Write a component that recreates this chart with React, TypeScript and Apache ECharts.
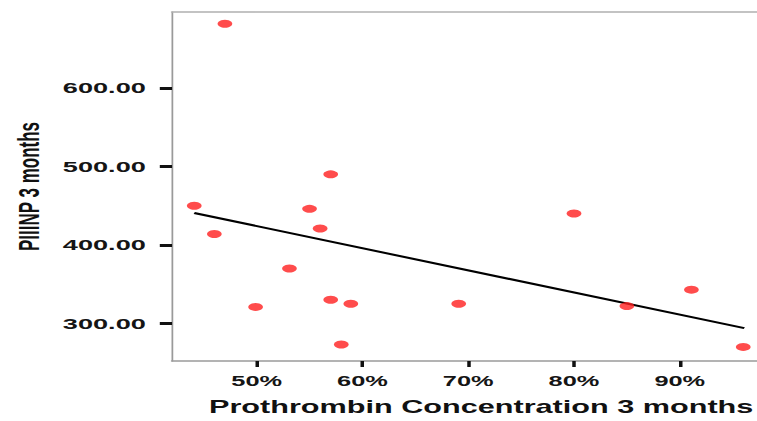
import React, { useEffect, useRef } from "react";
import * as echarts from "echarts";

// Prothrombin concentration (%) at 3 months
const prothrombin = [47, 44.1, 46, 49.9, 53.1, 55, 56, 57, 57, 58.9, 58, 69.1, 80, 85, 91.1, 96];
// PIIINP at 3 months
const piiinp = [682, 450, 414, 321, 370, 446, 421, 490, 330, 325, 273, 325, 440, 322, 343, 270];
// Fit line end points
const fitX = [44.1, 96.1];
const fitY = [440.7, 293.9];
// Tick values
const xTicks = [50, 60, 70, 80, 90];
const yTicks = [300, 400, 500, 600];

const STRETCH = 1.75;
const H = 421;
const W = 757 / STRETCH;

export default function App() {
  const ref = useRef<HTMLDivElement>(null);
  useEffect(() => {
    if (!ref.current) return;
    const chart = echarts.init(ref.current, null, { renderer: "svg", width: W, height: H });
    const points = prothrombin.map((x, i) => [x, piiinp[i]]);
    const fit = fitX.map((x, i) => [x, fitY[i]]);
    chart.setOption({
      animation: false,
      backgroundColor: "#ffffff",
      grid: { left: 166 / STRETCH, right: 0, top: 12, bottom: 59 },
      xAxis: [
        {
          type: "value",
          min: 42,
          max: 97.3,
          position: "bottom",
          splitLine: { show: false },
          axisLine: { show: true, lineStyle: { color: "#9a9a9a", width: 1.5 } },
          axisTick: { show: true, length: 6, customValues: xTicks, lineStyle: { color: "#111", width: 2 } },
          axisLabel: {
            customValues: xTicks,
            margin: 12,
            formatter: (v: number) => `${Math.round(v)}%`,
            fontFamily: "Liberation Sans",
            fontWeight: "bold",
            fontSize: 14.5,
            color: "#151515",
          },
          name: "Prothrombin Concentration 3 months",
          nameLocation: "middle",
          nameGap: 37,
          nameTextStyle: {
            fontFamily: "Liberation Sans",
            fontWeight: "bold",
            fontSize: 17.5,
            color: "#111",
            padding: [0, 0, 0, 19],
          },
        },
        {
          type: "value",
          min: 42,
          max: 97.3,
          position: "top",
          splitLine: { show: false },
          axisLine: { show: true, lineStyle: { color: "#b0b0b0", width: 1.5 } },
          axisTick: { show: false },
          axisLabel: { show: false },
        },
      ],
      yAxis: {
        type: "value",
        min: 252,
        max: 697,
        splitLine: { show: false },
        axisLine: { show: true, lineStyle: { color: "#9a9a9a", width: 1 } },
        axisTick: { show: true, length: 7, customValues: yTicks, lineStyle: { color: "#111", width: 3 } },
        axisLabel: {
          customValues: yTicks,
          margin: 15,
          formatter: (v: number) => v.toFixed(2),
          fontFamily: "Liberation Sans",
          fontWeight: "bold",
          fontSize: 15.5,
          color: "#151515",
        },
        name: "PIIINP 3 months",
        nameLocation: "middle",
        nameRotate: 90,
        nameGap: 72,
        nameTextStyle: {
          fontFamily: "Liberation Sans",
          fontWeight: "bold",
          fontSize: 17,
          color: "#111",
        },
      },
      series: [
        {
          type: "line",
          data: fit,
          xAxisIndex: 0,
          showSymbol: false,
          symbol: "none",
          lineStyle: { color: "#000", width: 2 },
          silent: true,
          z: 2,
        },
        {
          type: "scatter",
          data: points,
          xAxisIndex: 0,
          symbol: "circle",
          symbolSize: [8.4, 8],
          itemStyle: { color: "#ff1f1f" },
          z: 3,
        },
      ],
    });
    return () => chart.dispose();
  }, []);
  return (
    <div
      ref={ref}
      style={{
        position: "fixed",
        left: 0,
        top: 0,
        width: W,
        height: H,
        transform: `scaleX(${STRETCH})`,
        transformOrigin: "0 0",
        background: "#fff",
      }}
    />
  );
}
